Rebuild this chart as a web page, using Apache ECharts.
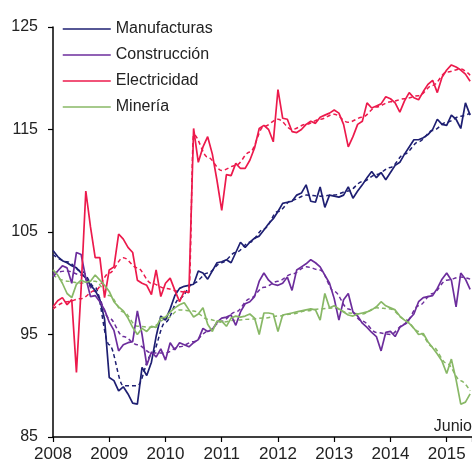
<!DOCTYPE html>
<html>
<head>
<meta charset="utf-8">
<script src="https://cdn.jsdelivr.net/npm/echarts@6/dist/echarts.min.js"></script>
<style>
html,body{margin:0;padding:0;background:#fff;}
#chart{width:472px;height:460px;}
</style>
</head>
<body>
<div id="chart"></div>
<script>
// Monthly indices, Jan 2008 .. Jun 2015
const startYear = 2008;
const seriesNames = ['Manufacturas', 'Construcción', 'Electricidad', 'Minería'];
const yTicks = [85, 95, 105, 115, 125];
const xTickYears = [2008, 2009, 2010, 2011, 2012, 2013, 2014, 2015];
const noteText = 'Junio';

const manufacturas = [
  103.2, 102.6, 102.2, 102.0, 101.7, 101.5, 101.0, 100.5, 99.8, 99.3, 98.4, 96.5,
  90.8, 90.5, 89.5, 89.9, 89.2, 88.3, 88.2, 91.8, 91.0, 92.3, 94.8, 96.8,
  96.4, 97.5, 98.8, 99.5, 99.7, 99.8, 99.9, 101.2, 101.0, 100.4, 101.2, 102.0,
  102.1, 102.3, 102.0, 103.0, 104.0, 103.5, 104.0, 104.4, 104.6, 105.2, 105.8, 106.3,
  107.0, 107.8, 107.9, 108.0, 108.6, 108.8, 109.6, 108.0, 107.9, 109.4, 107.4, 108.6,
  108.5, 108.4, 108.6, 109.4, 108.3, 109.0, 109.6, 110.3, 110.9, 110.3, 110.8, 110.1,
  110.8, 111.5, 111.8, 112.6, 113.3, 114.0, 114.0, 114.2, 114.5, 115.0, 116.0, 115.5,
  115.4, 116.4, 116.0, 115.1, 117.6, 116.4
];
const construccion = [
  100.6, 101.2, 101.7, 101.5, 100.0, 103.0, 102.8, 100.5, 98.7, 98.8, 98.2, 97.4,
  96.2, 95.4, 93.4, 94.0, 94.2, 94.3, 97.3, 95.0, 92.0, 93.3, 92.8, 93.6,
  92.5, 94.2, 93.5, 94.2, 94.0, 93.8, 94.2, 94.5, 95.6, 95.3, 95.5, 96.2,
  96.6, 96.7, 96.9, 95.9, 97.2, 98.0, 98.2, 98.7, 100.2, 101.0, 100.3, 99.9,
  99.8, 100.0, 100.6, 99.3, 101.3, 101.6, 101.9, 102.3, 102.0, 101.6, 100.8, 100.0,
  98.5, 96.4, 98.4, 99.0, 97.2, 96.8, 96.1, 95.7, 95.2, 94.8, 93.4, 95.2,
  95.3, 94.8, 95.7, 96.0, 96.5, 97.0, 98.2, 98.6, 98.7, 98.8, 99.5, 100.4,
  101.0, 100.3, 97.7, 101.0, 100.4, 99.4
];
const electricidad = [
  97.7, 98.3, 98.6, 97.9, 98.4, 91.3, 99.5, 109.0, 105.5, 102.5, 102.5, 98.6,
  101.3, 101.6, 104.8, 104.3, 103.5, 103.0, 100.3, 100.0, 99.8, 98.9, 101.3, 98.7,
  100.0, 100.5, 99.3, 98.2, 99.2, 99.1, 115.1, 111.8, 113.3, 114.3, 112.6, 110.0,
  107.1, 110.6, 110.5, 111.7, 111.2, 111.2, 112.0, 113.2, 115.1, 115.4, 115.0, 113.8,
  118.9, 116.1, 116.0, 114.8, 114.7, 115.0, 115.5, 115.8, 115.6, 116.2, 116.4, 116.6,
  116.9, 116.6, 115.5, 113.3, 114.3, 115.5, 115.8, 117.6, 117.1, 117.3, 117.5, 118.2,
  118.0, 117.6, 116.7, 117.8, 118.6, 118.1, 117.9, 118.7, 119.4, 119.8, 118.6, 120.1,
  120.8, 121.3, 121.1, 120.8, 120.4, 119.7
];
const mineria = [
  101.3, 100.8, 100.0, 99.0, 98.6, 99.9, 100.3, 100.1, 100.2, 100.8, 100.3, 99.8,
  99.2, 98.2, 97.7, 97.3, 96.6, 95.7, 95.0, 95.6, 95.3, 95.8, 95.7, 96.6,
  96.7, 97.2, 97.6, 97.9, 98.1, 97.4, 96.7, 97.0, 97.6, 96.0, 95.3, 96.3,
  96.3, 95.8, 96.6, 96.8, 96.7, 96.8, 97.0, 96.6, 95.0, 97.1, 97.1, 97.0,
  95.3, 96.9, 97.0, 97.1, 97.2, 97.3, 97.4, 97.5, 97.4, 96.4, 99.0, 97.6,
  97.8, 97.5, 97.2, 96.9, 96.8, 97.0, 97.1, 97.2, 97.4, 97.7, 98.2, 97.8,
  97.6, 97.4, 96.8, 96.4, 96.1, 95.6, 95.0, 95.1, 94.3, 93.7, 93.1, 92.4,
  91.2, 92.6, 90.6, 88.2, 88.4, 89.2
];

// Trend (dashed) readings: [month index, value]
const manufacturasTrend = [[0,102.8],[3,102.1],[6,101.2],[9,99.6],[12,94.0],[15,90.0],[18,90.0],[21,93.0],[24,96.2],[27,98.5],[30,100.0],[33,101.0],[36,102.0],[39,103.0],[42,104.0],[45,105.3],[48,107.0],[51,108.1],[54,108.6],[57,108.5],[60,108.6],[63,109.0],[66,109.9],[69,110.6],[72,111.3],[75,112.6],[78,113.8],[81,114.9],[84,115.7],[87,116.3],[89,116.6]];
const construccionTrend = [[0,101.0],[3,101.2],[6,100.8],[9,99.2],[12,96.6],[15,94.8],[18,94.0],[21,93.2],[24,93.2],[27,93.8],[30,94.3],[33,95.3],[36,96.3],[39,97.2],[42,98.5],[45,99.6],[48,100.2],[51,100.9],[54,101.6],[57,101.3],[60,99.2],[63,97.5],[66,96.3],[69,95.2],[72,95.0],[75,96.0],[78,97.8],[81,99.0],[84,100.3],[87,100.6],[89,100.4]];
const electricidadTrend = [[0,97.5],[3,98.2],[6,98.5],[9,99.3],[12,101.0],[15,102.5],[18,101.5],[21,100.0],[24,99.5],[27,99.2],[29,99.1],[30,114.5],[33,112.3],[36,111.0],[39,111.5],[42,112.8],[45,115.3],[48,116.0],[51,115.0],[54,115.5],[57,116.0],[60,116.5],[63,115.7],[66,116.2],[69,117.2],[72,117.7],[75,118.0],[78,118.3],[81,119.3],[84,120.6],[87,120.9],[89,120.3]];
const mineriaTrend = [[0,100.8],[3,100.2],[6,100.0],[9,100.2],[12,98.8],[15,97.2],[18,95.8],[21,95.7],[24,96.5],[27,97.4],[30,97.3],[33,96.5],[36,96.2],[39,96.4],[42,96.5],[45,96.6],[48,96.8],[51,97.0],[54,97.3],[57,97.5],[60,97.6],[63,97.1],[66,97.0],[69,97.6],[72,97.5],[75,96.5],[78,95.3],[81,93.8],[84,92.2],[87,90.5],[89,89.5]];

const colors = ['#1e1f72', '#6c2d9c', '#ec1a4c', '#88b866'];
const FONT = '"Liberation Sans", Arial, sans-serif';

const toXY = arr => arr.map((v, m) => [startYear + m / 12, v]);
const trendXY = arr => arr.map(p => [startYear + p[0] / 12, p[1]]);

const solids = [manufacturas, construccion, electricidad, mineria];
const trends = [manufacturasTrend, construccionTrend, electricidadTrend, mineriaTrend];

const series = [];
trends.forEach((t, i) => {
  series.push({
    name: seriesNames[i] + ' tendencia',
    type: 'line',
    data: trendXY(t),
    symbol: 'none',
    smooth: 0.35,
    smoothMonotone: 'x',
    lineStyle: { color: colors[i], width: 1.5, type: [4, 3] },
    itemStyle: { color: colors[i] },
    silent: true,
    z: 2
  });
});
solids.forEach((s, i) => {
  series.push({
    name: seriesNames[i],
    type: 'line',
    data: toXY(s),
    symbol: 'none',
    lineStyle: { color: colors[i], width: 1.7 },
    itemStyle: { color: colors[i] },
    z: 3
  });
});

const chart = echarts.init(document.getElementById('chart'), null, { renderer: 'canvas' });
chart.setOption({
  animation: false,
  backgroundColor: '#ffffff',
  grid: { left: 53, right: 0, top: 27, bottom: 23, containLabel: false, outerBoundsMode: 'none' },
  legend: {
    data: seriesNames,
    orient: 'vertical',
    left: 62,
    top: 21,
    padding: 0,
    itemWidth: 48,
    itemHeight: 14,
    itemGap: 10,
    itemStyle: { opacity: 0 },
    lineStyle: { width: 1.5 },
    textStyle: { fontSize: 16, fontFamily: FONT, color: '#222' }
  },
  xAxis: {
    type: 'value',
    min: xTickYears[0],
    max: 2015.45,
    interval: 1,
    splitLine: { show: false },
    axisLine: { lineStyle: { color: '#000', width: 1.5 } },
    axisTick: { length: 5, lineStyle: { color: '#000', width: 1.2 } },
    axisLabel: {
      margin: 9,
      fontSize: 17,
      fontFamily: FONT,
      color: '#222',
      formatter: v => (xTickYears.indexOf(v) >= 0 ? String(v) : '')
    }
  },
  yAxis: {
    type: 'value',
    min: yTicks[0],
    max: yTicks[yTicks.length - 1],
    interval: 10,
    splitLine: { show: false },
    axisLine: { show: true, lineStyle: { color: '#000', width: 1.5 } },
    axisTick: { show: true, length: 5, lineStyle: { color: '#000', width: 1.2 } },
    axisLabel: { margin: 15, fontSize: 16, fontFamily: FONT, color: '#222' }
  },
  graphic: [{
    type: 'text',
    right: 0,
    top: 419,
    style: { text: noteText, font: '16px ' + FONT, fill: '#222' }
  }],
  series: series
});
</script>
</body>
</html>
